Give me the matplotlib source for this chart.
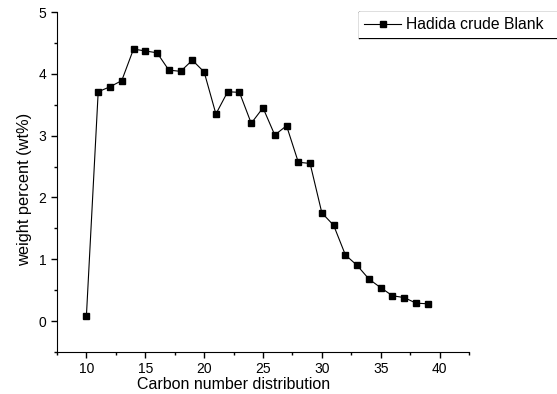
import matplotlib.pyplot as plt
from matplotlib.lines import Line2D
from matplotlib.ticker import MultipleLocator

# Carbon number distribution of Hadida crude (blank)
carbon_number = [10, 11, 12, 13, 14, 15, 16, 17, 18, 19, 20, 21, 22, 23, 24,
                 25, 26, 27, 28, 29, 30, 31, 32, 33, 34, 35, 36, 37, 38, 39]
weight_percent = [0.09, 3.71, 3.79, 3.89, 4.40, 4.37, 4.34, 4.06, 4.04, 4.22,
                  4.03, 3.35, 3.71, 3.70, 3.20, 3.45, 3.01, 3.16, 2.57, 2.55,
                  1.75, 1.55, 1.07, 0.90, 0.68, 0.54, 0.41, 0.38, 0.29, 0.28]
series_label = "Hadida crude Blank"

plt.rcParams['font.family'] = ['Liberation Sans', 'DejaVu Sans']
plt.rcParams['font.size'] = 10

W, H = 557, 394
fig = plt.figure(figsize=(W / 100, H / 100), dpi=100)
ax = fig.add_axes([57 / W, 1 - 352 / H, (469 - 57) / W, (352 - 12) / H])

ax.plot(carbon_number, weight_percent, color='black', linewidth=0.8,
        marker='s', markersize=5, markerfacecolor='black',
        markeredgecolor='black', label=series_label)

ax.set_xlim(7.5, 42.5)
ax.set_ylim(-0.5, 5)
ax.xaxis.set_major_locator(MultipleLocator(5))
ax.xaxis.set_minor_locator(MultipleLocator(2.5))
ax.yaxis.set_major_locator(MultipleLocator(1))
ax.yaxis.set_minor_locator(MultipleLocator(0.5))
ax.tick_params(which='major', direction='out', length=4, width=1)
ax.tick_params(which='minor', direction='out', length=2.5, width=1)
ax.spines['top'].set_visible(False)
ax.spines['right'].set_visible(False)

ax.set_xlabel("Carbon number distribution", fontsize=11.5, va='center')
ax.xaxis.set_label_coords(0.428, -0.097)
ax.set_ylabel("weight percent (wt%)", fontsize=11.8, va='center')
ax.yaxis.set_label_coords(-0.078, 0.479)

# legend box runs off the right edge, as in the original
leg = fig.legend(loc='upper left', mode='expand',
                 bbox_to_anchor=(359 / W, 1 - 37 / H, 260 / W, 25 / H),
                 frameon=True, fancybox=False, fontsize=11.3,
                 handlelength=2.35, handletextpad=0.3, borderpad=0.35,
                 borderaxespad=0, framealpha=1)
leg.get_frame().set_edgecolor('none')

# draw the open frame (top, left, bottom) so no edge appears at the figure border
fig.canvas.draw()
bb = leg.get_window_extent().transformed(fig.transFigure.inverted())
for xs, ys in [([bb.x0, 1.02], [bb.y1, bb.y1]),
               ([bb.x0, bb.x0], [bb.y0, bb.y1]),
               ([bb.x0, 1.02], [bb.y0, bb.y0])]:
    fig.add_artist(Line2D(xs, ys, transform=fig.transFigure,
                          color='black', linewidth=0.9))

fig.savefig("out.png", dpi=100)
